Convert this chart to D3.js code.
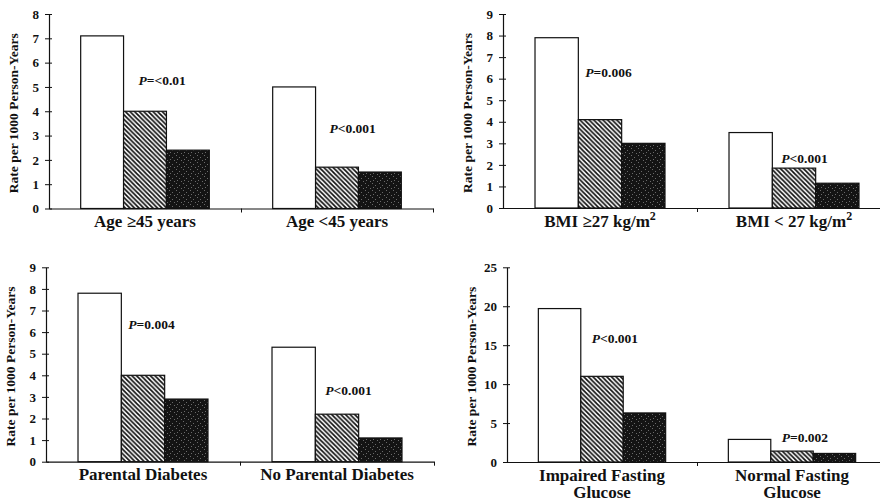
<!DOCTYPE html>
<html>
<head>
<meta charset="utf-8">
<script src="https://cdn.jsdelivr.net/npm/d3@7/dist/d3.min.js"></script>
<style>
  html, body { margin: 0; padding: 0; background: #fff; }
  text { font-family: "Liberation Serif", "Times New Roman", serif; font-weight: bold; fill: #111; }
</style>
</head>
<body>
<script>
// ---- Data ----
const seriesKeys = ["white", "hatched", "black"];

const categoriesA = ["Age ≥45 years", "Age <45 years"];
const whiteA = [7.1, 5.0];
const hatchedA = [4.0, 1.7];
const blackA = [2.4, 1.5];
const pTextA = ["=<0.01", "<0.001"];
const pAtA = [5.25, 3.3];
const ticksA = [0, 1, 2, 3, 4, 5, 6, 7, 8];

const categoriesB = ["BMI ≥27 kg/m^2", "BMI < 27 kg/m^2"];
const whiteB = [7.9, 3.5];
const hatchedB = [4.1, 1.85];
const blackB = [3.0, 1.15];
const pTextB = ["=0.006", "<0.001"];
const pAtB = [6.3, 2.3];
const ticksB = [0, 1, 2, 3, 4, 5, 6, 7, 8, 9];

const categoriesC = ["Parental Diabetes", "No Parental Diabetes"];
const whiteC = [7.8, 5.3];
const hatchedC = [4.0, 2.2];
const blackC = [2.9, 1.1];
const pTextC = ["=0.004", "<0.001"];
const pAtC = [6.33, 3.3];
const ticksC = [0, 1, 2, 3, 4, 5, 6, 7, 8, 9];

const categoriesD = ["Impaired Fasting\nGlucose", "Normal Fasting\nGlucose"];
const whiteD = [19.7, 2.9];
const hatchedD = [11.0, 1.4];
const blackD = [6.3, 1.1];
const pTextD = ["<0.001", "=0.002"];
const pAtD = [15.8, 3.1];
const ticksD = [0, 5, 10, 15, 20, 25];

const yTitle = "Rate per 1000 Person-Years";

// ---- Layout ----
const panels = [
  { cats: categoriesA, vals: [whiteA, hatchedA, blackA], pText: pTextA, pAt: pAtA, ticks: ticksA,
    x0: 49, x1: 433, yBottom: 208.5, yTop: 14, pdx: [15, 14] },
  { cats: categoriesB, vals: [whiteB, hatchedB, blackB], pText: pTextB, pAt: pAtB, ticks: ticksB,
    x0: 503, x1: 891, yBottom: 208, yTop: 14, pdx: [7, 9] },
  { cats: categoriesC, vals: [whiteC, hatchedC, blackC], pText: pTextC, pAt: pAtC, ticks: ticksC,
    x0: 46, x1: 434, yBottom: 461.7, yTop: 267.3, pdx: [7, 10] },
  { cats: categoriesD, vals: [whiteD, hatchedD, blackD], pText: pTextD, pAt: pAtD, ticks: ticksD,
    x0: 507, x1: 887, yBottom: 462, yTop: 267.3, pdx: [11, 11] }
];

const svg = d3.select("body").append("svg")
  .attr("width", 880).attr("height", 500)
  .style("display", "block");

const defs = svg.append("defs");
const hatch = defs.append("pattern")
  .attr("id", "hatch").attr("patternUnits", "userSpaceOnUse")
  .attr("width", 4.6).attr("height", 4.6);
hatch.append("rect").attr("width", 4.6).attr("height", 4.6).attr("fill", "#fff");
hatch.append("path")
  .attr("d", "M-1,-1 L5.6,5.6 M-1,3.6 L1,5.6 M3.6,-1 L5.6,1")
  .attr("stroke", "#111").attr("stroke-width", 1.7);

const stip = defs.append("pattern")
  .attr("id", "stipple").attr("patternUnits", "userSpaceOnUse")
  .attr("width", 7).attr("height", 7);
stip.append("rect").attr("width", 7).attr("height", 7).attr("fill", "#141414");
[[1, 1], [4, 3], [2, 5], [6, 6]].forEach(p => {
  stip.append("rect").attr("x", p[0]).attr("y", p[1]).attr("width", 1).attr("height", 1).attr("fill", "#6a6a6a");
});

const fills = { white: "#fff", hatched: "url(#hatch)", black: "url(#stipple)" };

panels.forEach(cfg => {
  const g = svg.append("g");
  const x = d3.scaleBand().domain(cfg.cats).range([cfg.x0, cfg.x1])
    .paddingInner(0.33).paddingOuter(0.165);
  const xs = d3.scaleBand().domain(seriesKeys).range([0, x.bandwidth()]);
  const yMax = cfg.ticks[cfg.ticks.length - 1];
  const y = d3.scaleLinear().domain([0, yMax]).range([cfg.yBottom, cfg.yTop]);

  // Bars
  cfg.cats.forEach((c, i) => {
    seriesKeys.forEach((k, j) => {
      const v = cfg.vals[j][i];
      g.append("rect")
        .attr("x", x(c) + xs(k))
        .attr("y", y(v))
        .attr("width", xs.bandwidth())
        .attr("height", y(0) - y(v))
        .attr("fill", fills[k])
        .attr("stroke", "#111")
        .attr("stroke-width", 1.2);
    });
  });

  // Y axis
  const ya = g.append("g").attr("transform", `translate(${cfg.x0},0)`)
    .call(d3.axisLeft(y).tickValues(cfg.ticks).tickSizeInner(3).tickSizeOuter(0).tickPadding(7).tickFormat(d3.format("d")));
  ya.select(".domain").attr("stroke", "#111").attr("stroke-width", 1.2);
  ya.selectAll(".tick line").attr("x1", 3).attr("x2", -4).attr("stroke", "#111");
  ya.selectAll(".tick text").style("font-size", "13px").style("font-family", "Liberation Serif").style("font-weight", "bold").attr("fill", "#111");

  // X axis
  const xl = d3.scaleLinear().domain([0, cfg.cats.length]).range([cfg.x0, cfg.x1]);
  const xa = g.append("g").attr("transform", `translate(0,${cfg.yBottom})`)
    .call(d3.axisBottom(xl).tickValues(d3.range(1, cfg.cats.length + 1)).tickFormat("").tickSizeInner(4).tickSizeOuter(0));
  xa.select(".domain").attr("stroke", "#111").attr("stroke-width", 1.2);
  xa.selectAll(".tick line").attr("stroke", "#111");

  // Category labels
  cfg.cats.forEach(c => {
    const cx = x(c) + x.bandwidth() / 2;
    const lines = c.split("\n");
    lines.forEach((ln, li) => {
      const t = g.append("text")
        .attr("x", cx).attr("y", cfg.yBottom + 18.5 + li * 17.5)
        .attr("text-anchor", "middle").style("font-size", "17px");
      const parts = ln.split("^");
      t.append("tspan").text(parts[0]);
      if (parts[1]) {
        t.append("tspan").attr("dy", -7).style("font-size", "12px").text(parts[1]);
      }
    });
  });

  // P-value labels
  cfg.cats.forEach((c, i) => {
    const t = g.append("text")
      .attr("x", x(c) + xs("hatched") + cfg.pdx[i])
      .attr("y", y(cfg.pAt[i]) + 4.5)
      .style("font-size", "13.5px");
    t.append("tspan").style("font-style", "italic").text("P");
    t.append("tspan").text(cfg.pText[i]);
  });

  // Y title
  const ty = (cfg.yTop + cfg.yBottom) / 2 + 2;
  g.append("text")
    .attr("transform", `translate(${cfg.x0 - 31},${ty}) rotate(-90)`)
    .attr("text-anchor", "middle")
    .style("font-size", "13.5px")
    .text(yTitle);
});
</script>
</body>
</html>
